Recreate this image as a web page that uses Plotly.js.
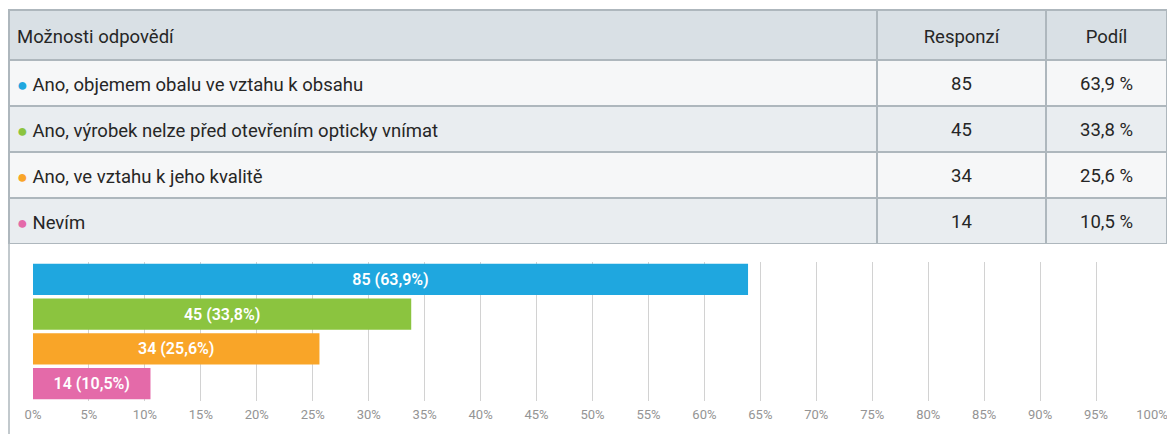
<!DOCTYPE html>
<html>
<head>
<meta charset="utf-8">
<script src="https://cdn.plot.ly/plotly-3.0.1.min.js"></script>
<style>
html,body{margin:0;padding:0;background:#fff;}
#chart{width:1167px;height:434px;}
#chart .cell-text{translate:0 8px;}
#chart #header .cell-text{translate:0 11px;}
</style>
</head>
<body>
<div id="chart"></div>
<script>
const categories = [
  "Ano, objemem obalu ve vztahu k obsahu",
  "Ano, výrobek nelze před otevřením opticky vnímat",
  "Ano, ve vztahu k jeho kvalitě",
  "Nevím"
];
const responses = [85, 45, 34, 14];
const shares = [63.9, 33.8, 25.6, 10.5];
const shareLabels = ["63,9 %", "33,8 %", "25,6 %", "10,5 %"];
const barLabels = ["85 (63,9%)", "45 (33,8%)", "34 (25,6%)", "14 (10,5%)"];
const colors = ["#1fa7df", "#8bc43f", "#f9a528", "#e46aa9"];
const headers = ["Možnosti odpovědí", "Responzí", "Podíl"];

const W = 1167, H = 434;
const FONT = "Roboto, 'Open Sans', sans-serif";

const firstCol = categories.map((c, i) =>
  '<span style="color:' + colors[i] + ';font-size:18px">●</span> ' + c);

const rowFill = ["#f6f7f8", "#e9edf0", "#f6f7f8", "#e9edf0"];

const table = {
  type: "table",
  domain: {x: [9 / W, 1], y: [1 - 244 / H, 1 - 10 / H]},
  columnwidth: [868, 169, 121],
  header: {
    values: headers,
    align: ["left", "center", "center"],
    height: 50,
    fill: {color: "#d9e0e5"},
    line: {color: "#aeb7bd", width: 1.5},
    font: {family: FONT, size: 18.5, color: "#262626"}
  },
  cells: {
    values: [firstCol, responses.map(String), shareLabels],
    align: ["left", "center", "center"],
    height: 46,
    fill: {color: [rowFill]},
    line: {color: "#aeb7bd", width: 1.5},
    font: {family: FONT, size: 18.5, color: "#262626"}
  }
};

const bars = {
  type: "bar",
  orientation: "h",
  y: categories,
  x: shares,
  text: barLabels,
  textposition: "inside",
  insidetextanchor: "middle",
  textfont: {family: FONT, size: 16, color: "#ffffff", weight: 600},
  marker: {color: colors},
  hoverinfo: "none",
  xaxis: "x",
  yaxis: "y"
};

const layout = {
  width: W, height: H,
  margin: {l: 0, r: 0, t: 0, b: 0},
  paper_bgcolor: "#ffffff",
  plot_bgcolor: "#ffffff",
  showlegend: false,
  bargap: 0.1,
  xaxis: {
    domain: [33 / W, 1152 / W],
    range: [0, 100],
    dtick: 5,
    ticksuffix: "%",
    showgrid: true,
    gridcolor: "#d2d2d2",
    gridwidth: 1,
    zeroline: false,
    showline: false,
    ticks: "",
    ticklabelstandoff: 4,
    ticklabeloverflow: "allow",
    tickfont: {family: FONT, size: 13, color: "#949494"},
    fixedrange: true
  },
  yaxis: {
    domain: [1 - 401 / H, 1 - 262 / H],
    autorange: "reversed",
    showticklabels: false,
    showgrid: false,
    zeroline: false,
    ticks: "",
    fixedrange: true
  },
  shapes: [
    {type: "line", xref: "paper", yref: "paper", x0: 9 / W, x1: 9 / W, y0: 0, y1: 1 - 244 / H,
     line: {color: "#aeb7bd", width: 1.5}}
  ]
};

Plotly.newPlot("chart", [bars, table], layout, {displayModeBar: false, staticPlot: true}).then(function () {
  document.querySelectorAll("#chart .cell-text").forEach(function (el) {
    if (el.textContent.indexOf("●") === 0) el.style.translate = "0 14px";
  });
});
</script>
</body>
</html>
